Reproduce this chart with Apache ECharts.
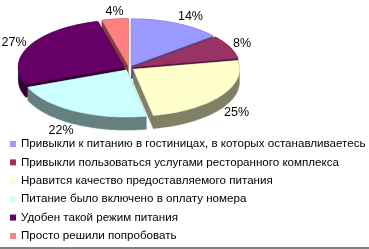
<!DOCTYPE html>
<html><head><meta charset="utf-8">
<script src="https://cdn.jsdelivr.net/npm/echarts@6/dist/echarts.min.js"></script>
<style>html,body{margin:0;padding:0;background:#fff}#c{width:369px;height:249px}</style>
</head><body><div id="c"></div>
<script>
const categories = [
  'Привыкли к питанию в гостиницах, в которых останавливаетесь',
  'Привыкли пользоваться услугами ресторанного комплекса',
  'Нравится качество предоставляемого питания',
  'Питание было включено в оплату номера',
  'Удобен такой режим питания',
  'Просто решили попробовать'
];
const values = [14, 8, 25, 22, 27, 4];
const colors = ['#9999FF', '#993366', '#FFFFCC', '#CCFFFF', '#660066', '#FF8080'];
const sideColors = ['#4d4d80', '#4d1a33', '#808066', '#668080', '#330033', '#804040'];

const G = { cx: 129, cy: 68, rx: 106, ry: 47, depth: 13, explode: 0.05, la: 115, lb: 57 };
const total = values.reduce((a, b) => a + b, 0);
const starts = [];
{ let acc = 0; values.forEach(v => { starts.push(acc / total * Math.PI * 2); acc += v; }); }

function hull(pts) {
  const p = pts.slice().sort((a, b) => a[0] - b[0] || a[1] - b[1]);
  const cross = (o, a, b) => (a[0] - o[0]) * (b[1] - o[1]) - (a[1] - o[1]) * (b[0] - o[0]);
  const lo = [], up = [];
  for (const q of p) { while (lo.length >= 2 && cross(lo[lo.length - 2], lo[lo.length - 1], q) <= 0) lo.pop(); lo.push(q); }
  for (let i = p.length - 1; i >= 0; i--) { const q = p[i]; while (up.length >= 2 && cross(up[up.length - 2], up[up.length - 1], q) <= 0) up.pop(); up.push(q); }
  up.pop(); lo.pop();
  return lo.concat(up);
}

function makeRender(idx) {
  return function (params, api) {
    const v = api.value(0);
    const a0 = starts[idx];
    const a1 = a0 + v / total * Math.PI * 2;
    const mid = (a0 + a1) / 2;
    const ox = G.explode * G.rx * Math.sin(mid);
    const oy = -G.explode * G.ry * Math.cos(mid);
    const cx = G.cx + ox, cy = G.cy + oy;
    const top = [[cx, cy]];
    const n = Math.max(4, Math.ceil((a1 - a0) / 0.03));
    for (let k = 0; k <= n; k++) {
      const t = a0 + (a1 - a0) * k / n;
      top.push([cx + G.rx * Math.sin(t), cy - G.ry * Math.cos(t)]);
    }
    const bottom = top.map(p => [p[0], p[1] + G.depth]);
    const sil = hull(top.concat(bottom));
    const s = Math.sin(mid), c = Math.cos(mid);
    let tx = G.cx + G.la * s;
    let ty = G.cy - G.lb * c + (c < 0 ? G.depth : 0);
    const align = Math.abs(s) < 0.3 ? 'center' : (s > 0 ? 'left' : 'right');
    return {
      type: 'group',
      children: [
        { type: 'polygon', shape: { points: sil }, style: { fill: sideColors[idx], stroke: sideColors[idx], lineWidth: 0.5 } },
        { type: 'polygon', shape: { points: top }, style: { fill: colors[idx], stroke: colors[idx], lineWidth: 0.5 } },
        { type: 'text', style: { x: tx, y: ty, text: Math.round(v / total * 100) + '%', fill: '#000', font: '12.5px Arial, "Liberation Sans", sans-serif', align: align, verticalAlign: 'middle' } }
      ]
    };
  };
}

// back-to-front ordering by slice middle angle
const order = values.map((v, i) => {
  const mid = starts[i] + v / total * Math.PI;
  return { i, y: -Math.cos(mid) };
}).sort((a, b) => a.y - b.y);
const zOf = {};
order.forEach((o, r) => { zOf[o.i] = 2 + r; });

const series = categories.map((name, i) => ({
  type: 'custom',
  name: name,
  coordinateSystem: 'none',
  z: zOf[i],
  silent: true,
  itemStyle: { color: colors[i] },
  data: [[values[i]]],
  renderItem: makeRender(i)
}));

const chart = echarts.init(document.getElementById('c'), null, { renderer: 'canvas' });
chart.setOption({
  animation: false,
  color: colors,
  legend: {
    orient: 'vertical', left: 10, top: 138, height: 120, padding: 0,
    icon: 'rect', itemWidth: 6, itemHeight: 6, itemGap: 6.4,
    selectedMode: false,
    data: categories,
    textStyle: { fontSize: 11.6, fontFamily: 'Arial, "Liberation Sans", sans-serif', color: '#000', lineHeight: 12, padding: 0 }
  },
  graphic: [{ type: 'rect', shape: { x: 0, y: 247, width: 369, height: 2 }, style: { fill: '#808080' }, silent: true }],
  series: series
});
</script></body></html>
